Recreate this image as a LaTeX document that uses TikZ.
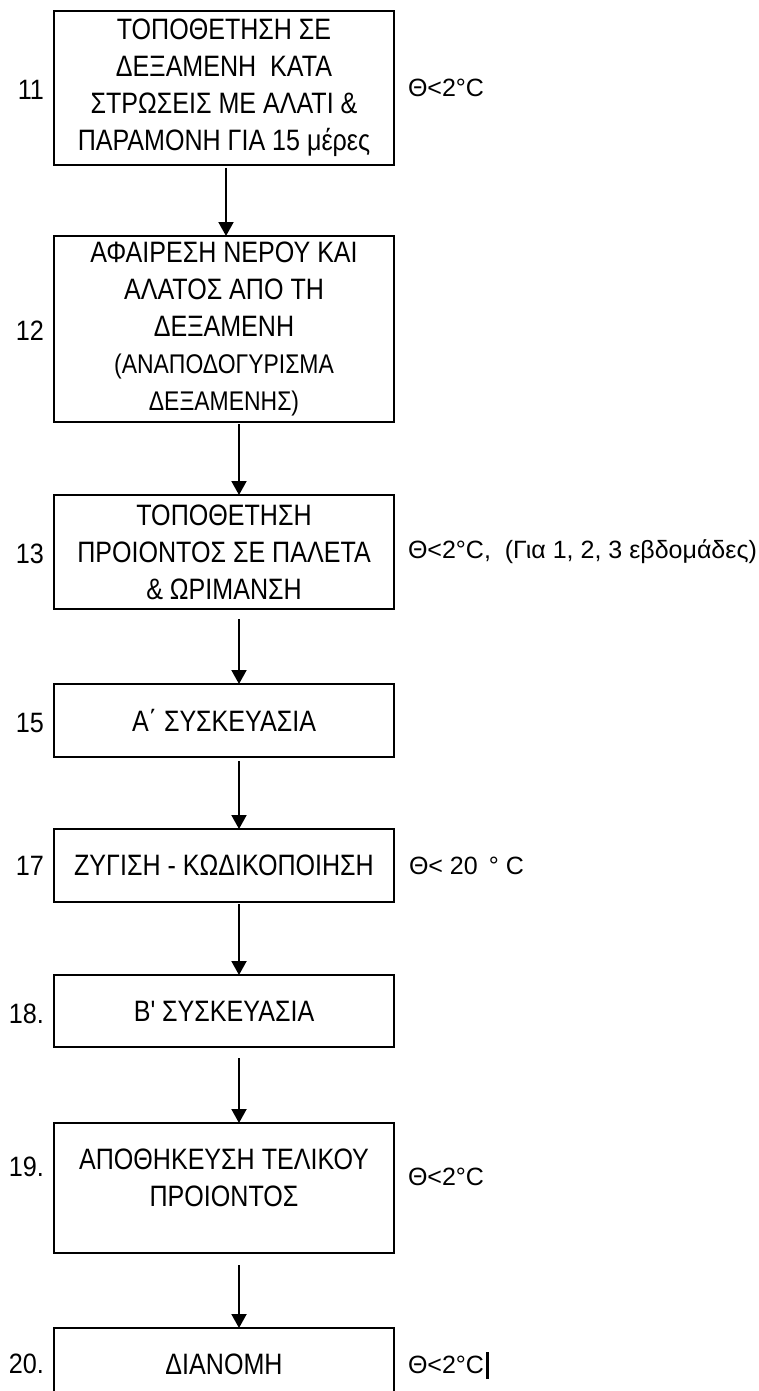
\documentclass[tikz,border=0pt]{standalone}
\usepackage{fontspec}
\setmainfont{Liberation Sans}
\newfontfamily\boxfont[FakeStretch=0.85]{Liberation Sans}
\newfontfamily\numfont[FakeStretch=0.9]{Liberation Sans}
\newfontfamily\lblfont[FakeStretch=1.0]{Liberation Sans}
\usetikzlibrary{arrows.meta}
\tikzset{
  stepbox/.style={draw, line width=2.2pt, minimum width=340pt, inner sep=0pt, outer sep=0pt,
    align=center, font=\boxfont\fontsize{29.5}{37}\selectfont},
  numlbl/.style={anchor=base east, inner sep=0pt, outer sep=0pt, font=\numfont\fontsize{28}{33}\selectfont},
  condlbl/.style={anchor=base west, inner sep=0pt, outer sep=0pt, font=\lblfont\fontsize{25}{30}\selectfont},
  flow/.style={line width=2pt, -{Triangle[length=14pt,width=15pt]}}
}
\begin{document}
\begin{tikzpicture}[x=1pt,y=-1pt]
\useasboundingbox (0,0) rectangle (759,1391);
% boxes
\node[stepbox, minimum height=154pt] (b11) at (224,88)
  {ΤΟΠΟΘΕΤΗΣΗ ΣΕ\\ΔΕΞΑΜΕΝΗ \ ΚΑΤΑ\\ΣΤΡΩΣΕΙΣ ΜΕ ΑΛΑΤΙ \&\\ΠΑΡΑΜΟΝΗ ΓΙΑ 15 μέρες};
\node[stepbox, minimum height=186pt] (b12) at (224,329)
  {ΑΦΑΙΡΕΣΗ ΝΕΡΟΥ ΚΑΙ\\ΑΛΑΤΟΣ ΑΠΟ ΤΗ\\ΔΕΞΑΜΕΝΗ\\{\fontsize{27}{37}\selectfont (ΑΝΑΠΟΔΟΓΥΡΙΣΜΑ}\\{\fontsize{27}{37}\selectfont ΔΕΞΑΜΕΝΗΣ)}};
\node[stepbox, minimum height=114pt] (b13) at (224,552)
  {ΤΟΠΟΘΕΤΗΣΗ\\ΠΡΟΙΟΝΤΟΣ ΣΕ ΠΑΛΕΤΑ\\\& ΩΡΙΜΑΝΣΗ};
\node[stepbox, minimum height=73pt] (b15) at (224,720.5) {Α΄ ΣΥΣΚΕΥΑΣΙΑ};
\node[stepbox, minimum height=73pt] (b17) at (224,865.5) {ΖΥΓΙΣΗ - ΚΩΔΙΚΟΠΟΙΗΣΗ};
\node[stepbox, minimum height=72pt] (b18) at (224,1011) {Β' ΣΥΣΚΕΥΑΣΙΑ};
\node[stepbox, minimum height=130pt,
  label={[stepbox, draw=none, yshift=10.5pt]center:{ΑΠΟΘΗΚΕΥΣΗ ΤΕΛΙΚΟΥ\\ΠΡΟΙΟΝΤΟΣ}}] (b19) at (224,1188) {};
\node[stepbox, minimum height=72pt] (b20) at (224,1364) {ΔΙΑΝΟΜΗ};
% step numbers
\node[numlbl] (n11) at (44,100) {11};
\node[numlbl] (n12) at (44,340) {12};
\node[numlbl] (n13) at (44,563) {13};
\node[numlbl] (n15) at (44,732) {15};
\node[numlbl] (n17) at (44,875) {17};
\node[numlbl] (n18) at (44,1023) {18.};
\node[numlbl] (n19) at (44,1176) {19.};
\node[numlbl] (n20) at (44,1373) {20.};
% conditions
\node[condlbl] (c11) at (408,97) {Θ<2°C};
\node[condlbl] (c13) at (408,558) {Θ<2°C, \ (Για 1, 2, 3 εβδομάδες)};
\node[condlbl] (c17) at (409,874) {Θ< 20 \,° C};
\node[condlbl] (c19) at (408,1185) {Θ<2°C};
\node[condlbl] (c20) at (408,1373) {Θ<2°C};
\draw[line width=3pt] ([xshift=3pt,yshift=-6pt]c20.base east) -- ([xshift=3pt,yshift=21pt]c20.base east);
% connectors
\draw[flow, shorten <=3pt] ([xshift=2pt]b11.south) -- ([xshift=2pt]b12.north);
\draw[flow, shorten <=2pt] ([xshift=15pt]b12.south) -- ([xshift=15pt]b13.north);
\draw[flow, shorten <=10pt] ([xshift=15pt]b13.south) -- ([xshift=15pt]b15.north);
\draw[flow, shorten <=4pt] ([xshift=15pt]b15.south) -- ([xshift=15pt]b17.north);
\draw[flow, shorten <=2pt] ([xshift=15pt]b17.south) -- ([xshift=15pt]b18.north);
\draw[flow, shorten <=11pt] ([xshift=15pt]b18.south) -- ([xshift=15pt]b19.north);
\draw[flow, shorten <=12pt] ([xshift=15pt]b19.south) -- ([xshift=15pt]b20.north);
\end{tikzpicture}
\end{document}
